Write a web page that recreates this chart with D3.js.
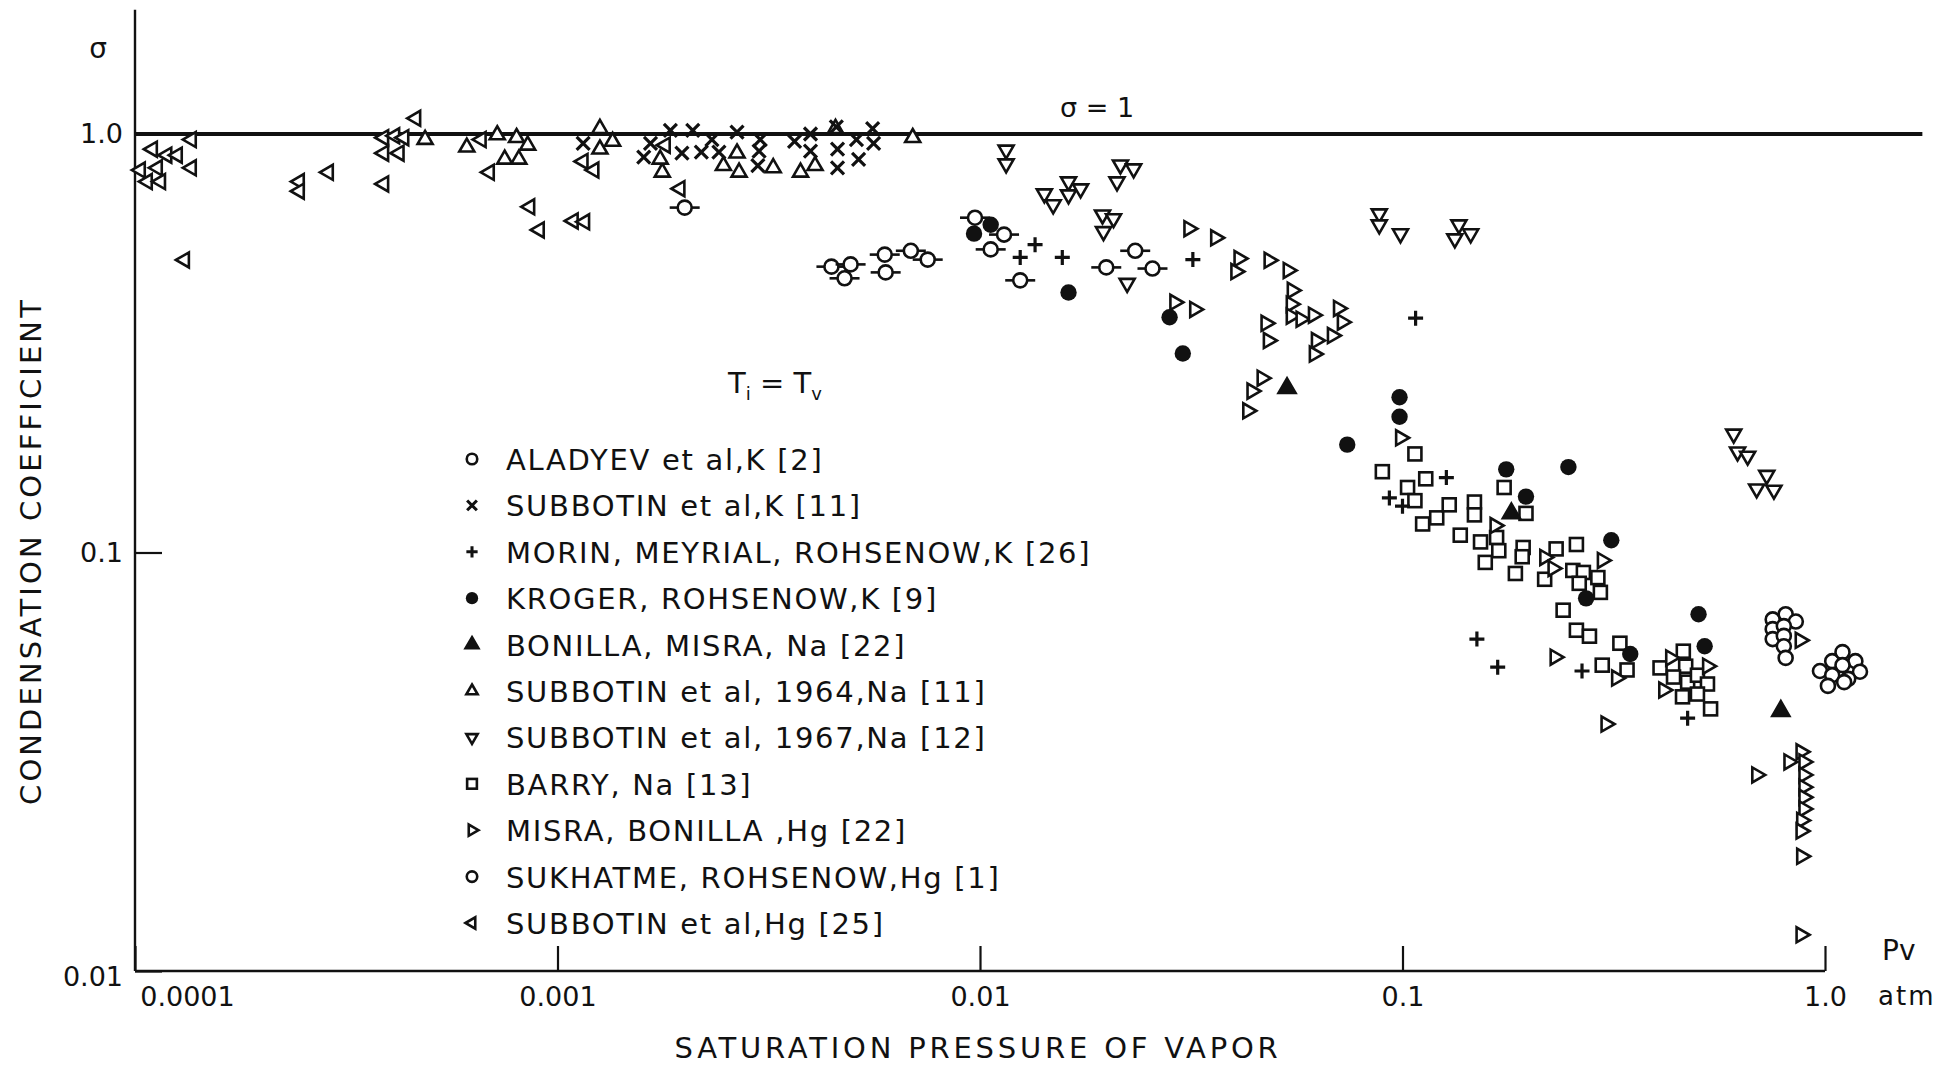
<!DOCTYPE html>
<html>
<head>
<meta charset="utf-8">
<script src="https://cdn.jsdelivr.net/npm/d3@7"></script>
<style>
  body { margin: 0; background: #fff; }
  text { font-family: "DejaVu Sans", sans-serif; fill: #111; }
</style>
</head>
<body>
<script>
// Données : [pression de vapeur (atm), coefficient de condensation]
const aladyevK = [[2.0e-3,0.667],[4.45e-3,0.482],[4.94e-3,0.488],[4.78e-3,0.452],[5.95e-3,0.515],[5.98e-3,0.467],[6.86e-3,0.526],[7.52e-3,0.501],[9.73e-3,0.631],[0.0114,0.575],[0.0106,0.53],[0.01245,0.447],[0.0199,0.48],[0.0233,0.526],[0.0256,0.477]]

const subbotinK = [[1.15e-3,0.95],[1.85e-3,1.02],[2.09e-3,1.02],[1.66e-3,0.95],[1.60e-3,0.88],[1.97e-3,0.90],[2.19e-3,0.905],[2.32e-3,0.97],[2.41e-3,0.905],[2.66e-3,1.01],[3.02e-3,0.97],[3.0e-3,0.91],[2.98e-3,0.84],[3.64e-3,0.96],[3.97e-3,1.0],[3.97e-3,0.91],[4.57e-3,1.04],[4.6e-3,0.92],[4.6e-3,0.83],[5.1e-3,0.97],[5.16e-3,0.87],[5.57e-3,1.03],[5.6e-3,0.95]]

const morinK = [[0.0135,0.544],[0.01245,0.507],[0.01566,0.507],[0.0319,0.501],[0.1074,0.363],[0.127,0.151],[0.0931,0.135],[0.1,0.129],[0.15,0.0621],[0.168,0.0532],[0.266,0.0521],[0.473,0.0402]]

const krogerK = [[9.68e-3,0.578],[0.0106,0.607],[0.0162,0.418],[0.0281,0.365],[0.0302,0.299],[0.0984,0.235],[0.0984,0.211],[0.074,0.181],[0.176,0.158],[0.247,0.160],[0.196,0.136],[0.312,0.107],[0.272,0.0777],[0.346,0.0572],[0.502,0.0712],[0.519,0.0597]]

const bonillaNa = [[0.0533,0.247],[0.181,0.124],[0.786,0.0418]]

const subbotin1964Na = [[4.86e-4,0.97],[6.1e-4,0.93],[7.2e-4,0.995],[8.0e-4,0.98],[8.5e-4,0.94],[7.5e-4,0.87],[8.1e-4,0.87],[1.26e-3,1.03],[1.35e-3,0.96],[1.26e-3,0.92],[1.77e-3,0.81],[1.75e-3,0.87],[2.66e-3,0.90],[2.47e-3,0.84],[2.69e-3,0.81],[3.24e-3,0.83],[3.76e-3,0.81],[4.07e-3,0.84],[4.55e-3,1.03],[6.93e-3,0.98]]

const subbotin1967Na = [[0.01153,0.916],[0.01153,0.849],[0.0142,0.72],[0.0149,0.678],[0.0162,0.769],[0.0162,0.716],[0.0173,0.74],[0.0215,0.844],[0.0231,0.826],[0.0211,0.769],[0.0195,0.641],[0.0207,0.628],[0.0196,0.585],[0.0223,0.44],[0.0881,0.645],[0.0881,0.607],[0.0989,0.578],[0.136,0.607],[0.145,0.578],[0.133,0.562],[0.608,0.192],[0.621,0.174],[0.656,0.170],[0.728,0.153],[0.689,0.142],[0.757,0.141]]

const barryNa = [[0.107,0.172],[0.0896,0.156],[0.1135,0.150],[0.1028,0.143],[0.107,0.133],[0.1116,0.117],[0.1205,0.121],[0.129,0.130],[0.148,0.132],[0.148,0.123],[0.137,0.110],[0.174,0.143],[0.196,0.124],[0.153,0.106],[0.167,0.1086],[0.169,0.101],[0.157,0.0947],[0.193,0.1028],[0.192,0.0977],[0.185,0.0891],[0.231,0.102],[0.258,0.1045],[0.217,0.0863],[0.253,0.0906],[0.268,0.0896],[0.262,0.0844],[0.29,0.0871],[0.294,0.0803],[0.24,0.0728],[0.258,0.0652],[0.277,0.0631],[0.327,0.0607],[0.297,0.0538],[0.34,0.0524],[0.462,0.0581],[0.407,0.053],[0.468,0.0535],[0.438,0.0504],[0.473,0.049],[0.499,0.0509],[0.527,0.0485],[0.499,0.0459],[0.46,0.0452],[0.536,0.0423]]

const misraHg = [[0.0312,0.594],[0.0361,0.565],[0.041,0.504],[0.0403,0.469],[0.0483,0.499],[0.0536,0.472],[0.0548,0.423],[0.0545,0.392],[0.0545,0.367],[0.0575,0.361],[0.0615,0.369],[0.0475,0.353],[0.0481,0.321],[0.0625,0.321],[0.0618,0.298],[0.0682,0.330],[0.072,0.355],[0.0705,0.383],[0.0289,0.396],[0.0322,0.381],[0.0465,0.261],[0.044,0.243],[0.043,0.218],[0.0989,0.188],[0.1655,0.116],[0.217,0.0973],[0.227,0.0916],[0.297,0.0957],[0.2296,0.0562],[0.321,0.0501],[0.303,0.0389],[0.431,0.056],[0.415,0.0469],[0.527,0.0535],[0.873,0.0617],[0.689,0.0294],[0.821,0.0316],[0.877,0.0334],[0.891,0.0316],[0.891,0.0294],[0.891,0.0275],[0.891,0.026],[0.891,0.0244],[0.88,0.0229],[0.877,0.0216],[0.88,0.0188],[0.877,0.0122]]

const sukhatmeHg = [[0.752,0.0692],[0.807,0.0712],[0.853,0.0684],[0.752,0.0656],[0.799,0.0667],[0.752,0.0621],[0.799,0.0632],[0.799,0.0597],[0.807,0.056],[0.973,0.0521],[1.04,0.055],[1.10,0.0578],[1.18,0.055],[1.21,0.0519],[1.10,0.0538],[1.135,0.0499],[1.04,0.0509],[1.016,0.048],[1.11,0.049]]

const subbotinHg = [[1.10e-4,0.92],[1.03e-4,0.82],[1.07e-4,0.77],[1.13e-4,0.83],[1.15e-4,0.77],[1.19e-4,0.89],[1.26e-4,0.89],[1.36e-4,0.97],[1.36e-4,0.83],[1.31e-4,0.50],[2.45e-4,0.77],[2.45e-4,0.73],[2.87e-4,0.81],[3.88e-4,0.98],[4.12e-4,0.99],[4.33e-4,0.98],[4.62e-4,1.09],[3.88e-4,0.90],[4.22e-4,0.90],[3.88e-4,0.76],[6.6e-4,0.97],[6.9e-4,0.81],[8.6e-4,0.67],[9.06e-4,0.59],[1.09e-3,0.62],[1.16e-3,0.617],[1.15e-3,0.86],[1.22e-3,0.82],[1.80e-3,0.94],[1.95e-3,0.74]]

// Axes
const xTicks = [1e-4, 1e-3, 1e-2, 1e-1, 1]
const xTickLabels = ['0.0001', '0.001', '0.01', '0.1', '1.0']
const yTicks = [0.01, 0.1, 1]
const yTickLabels = ['0.01', '0.1', '1.0']
const yAxisTop = 1.98
const sigmaLineEnd = 1.7

// Légende
const legendLabels = [
  'ALADYEV et al,K [2]',
  'SUBBOTIN et al,K [11]',
  'MORIN, MEYRIAL, ROHSENOW,K [26]',
  'KROGER, ROHSENOW,K [9]',
  'BONILLA, MISRA, Na [22]',
  'SUBBOTIN et al, 1964,Na [11]',
  'SUBBOTIN et al, 1967,Na [12]',
  'BARRY, Na [13]',
  'MISRA, BONILLA ,Hg [22]',
  'SUKHATME, ROHSENOW,Hg [1]',
  'SUBBOTIN et al,Hg [25]'
]
const legendKinds = ['circle', 'cross', 'plus', 'dot', 'triFill', 'triUp', 'triDown', 'square', 'triRight', 'circle', 'triLeft']

// Séries dans l'ordre de dessin
const series = [
  { data: subbotinHg, kind: 'triLeft' },
  { data: subbotin1964Na, kind: 'triUp' },
  { data: subbotinK, kind: 'cross' },
  { data: aladyevK, kind: 'circleBar' },
  { data: subbotin1967Na, kind: 'triDown' },
  { data: barryNa, kind: 'square' },
  { data: misraHg, kind: 'triRight' },
  { data: sukhatmeHg, kind: 'circle' },
  { data: morinK, kind: 'plus' },
  { data: krogerK, kind: 'dot' },
  { data: bonillaNa, kind: 'triFill' }
]

const ink = '#111'

const svg = d3.select('body')
  .append('svg')
  .attr('width', 1946)
  .attr('height', 1066)

const x = d3.scaleLog().domain([1e-4, 1]).range([135, 1825])
const y = d3.scaleLog().domain([0.01, 1]).range([971, 134])

// Dessine un marqueur dans le groupe g (k = facteur d'échelle)
function addMarker(g, kind, k) {
  const sw = 2.6
  const tri = (side, rot, fill) => {
    const a = side * side * Math.sqrt(3) / 4
    g.append('path')
      .attr('d', d3.symbol(d3.symbolTriangle, a)())
      .attr('transform', `rotate(${rot})`)
      .attr('fill', fill)
      .attr('stroke', ink)
      .attr('stroke-width', sw)
  }
  if (kind === 'circleBar') {
    g.append('line').attr('x1', -15 * k).attr('x2', 15 * k)
      .attr('stroke', ink).attr('stroke-width', sw)
    g.append('circle').attr('r', 7 * k).attr('fill', '#fff')
      .attr('stroke', ink).attr('stroke-width', sw)
  } else if (kind === 'circle') {
    g.append('circle').attr('r', 7 * k).attr('fill', '#fff')
      .attr('stroke', ink).attr('stroke-width', sw)
  } else if (kind === 'dot') {
    g.append('circle').attr('r', 8.2 * k).attr('fill', ink)
  } else if (kind === 'cross') {
    const s = 6.5 * k
    g.append('path').attr('d', `M${-s},${-s}L${s},${s}M${-s},${s}L${s},${-s}`)
      .attr('stroke', ink).attr('stroke-width', 3.2 * Math.min(1, k + 0.2))
  } else if (kind === 'plus') {
    const s = 7.5 * k
    g.append('path').attr('d', `M${-s},0L${s},0M0,${-s}L0,${s}`)
      .attr('stroke', ink).attr('stroke-width', 3.2 * Math.min(1, k + 0.2))
  } else if (kind === 'square') {
    const s = 6.5 * k
    g.append('rect').attr('x', -s).attr('y', -s).attr('width', 2 * s).attr('height', 2 * s)
      .attr('fill', '#fff').attr('stroke', ink).attr('stroke-width', sw)
  } else if (kind === 'triUp') tri(15 * k, 0, '#fff')
  else if (kind === 'triDown') tri(15 * k, 180, '#fff')
  else if (kind === 'triRight') tri(15 * k, 90, '#fff')
  else if (kind === 'triLeft') tri(15 * k, -90, '#fff')
  else if (kind === 'triFill') tri(17 * k, 0, ink)
}

// Axe des abscisses
svg.append('g')
  .attr('transform', `translate(0,${y(0.01)})`)
  .call(d3.axisBottom(x).tickValues(xTicks)
    .tickFormat((d, i) => xTickLabels[i])
    .tickSizeInner(-25).tickSizeOuter(0).tickPadding(16))
  .call(g => g.select('.domain').remove())
  .call(g => g.attr('font-size', 27).attr('font-family', null))
  .call(g => g.selectAll('.tick line').attr('stroke', ink).attr('stroke-width', 2.2))
  .call(g => g.selectAll('.tick text').filter((d, i) => i === 0).attr('dx', 52))

// Axe des ordonnées
svg.append('g')
  .attr('transform', `translate(${x(1e-4)},0)`)
  .call(d3.axisLeft(y).tickValues(yTicks)
    .tickFormat((d, i) => yTickLabels[i])
    .tickSizeInner(-27).tickSizeOuter(0).tickPadding(12))
  .call(g => g.select('.domain').remove())
  .call(g => g.attr('font-size', 27).attr('font-family', null))
  .call(g => g.selectAll('.tick line').attr('stroke', ink).attr('stroke-width', 2.2))
  .call(g => g.selectAll('.tick text').filter(d => d === 0.01).attr('dy', '0.55em'))

// Lignes des axes
svg.append('line')
  .attr('x1', x(1e-4)).attr('x2', x(1e-4))
  .attr('y1', y(yAxisTop)).attr('y2', y(0.01))
  .attr('stroke', ink).attr('stroke-width', 2.4)
svg.append('line')
  .attr('x1', x(1e-4)).attr('x2', x(1))
  .attr('y1', y(0.01)).attr('y2', y(0.01))
  .attr('stroke', ink).attr('stroke-width', 2.4)

// Ligne sigma = 1
svg.append('line')
  .attr('x1', x(1e-4)).attr('x2', x(sigmaLineEnd))
  .attr('y1', y(1)).attr('y2', y(1))
  .attr('stroke', ink).attr('stroke-width', 4)

// Points
series.forEach(s => {
  svg.append('g').selectAll('g')
    .data(s.data)
    .enter()
    .append('g')
    .attr('transform', d => `translate(${x(d[0])},${y(d[1])})`)
    .each(function () { addMarker(d3.select(this), s.kind, 1) })
})

// Textes
svg.append('text').text('σ')
  .attr('x', 98).attr('y', 58).attr('text-anchor', 'middle').attr('font-size', 28)

svg.append('text').text('σ = 1')
  .attr('x', 1060).attr('y', 117).attr('font-size', 27)

const tt = svg.append('text').attr('x', 728).attr('y', 393).attr('font-size', 29)
tt.append('tspan').text('T')
tt.append('tspan').text('i').attr('font-size', 18).attr('dy', 7)
tt.append('tspan').text(' = T').attr('dy', -7)
tt.append('tspan').text('v').attr('font-size', 18).attr('dy', 7)

svg.append('text').text('Pv')
  .attr('x', 1882).attr('y', 960).attr('font-size', 28)
svg.append('text').text('atm')
  .attr('x', 1878).attr('y', 1005).attr('font-size', 26).attr('letter-spacing', 2)

svg.append('text').text('SATURATION PRESSURE OF VAPOR')
  .attr('x', 978).attr('y', 1058).attr('text-anchor', 'middle')
  .attr('font-size', 29).attr('letter-spacing', 3.8)

svg.append('text').text('CONDENSATION COEFFICIENT')
  .attr('transform', 'translate(41,551) rotate(-90)')
  .attr('text-anchor', 'middle')
  .attr('font-size', 29).attr('letter-spacing', 3.1)

// Légende
const legend = svg.append('g')
legendLabels.forEach((label, i) => {
  const cy = 459 + i * 46.4
  const m = legend.append('g').attr('transform', `translate(472,${cy})`)
  addMarker(m, legendKinds[i], 0.75)
  legend.append('text').text(label)
    .attr('x', 506).attr('y', cy + 11)
    .attr('font-size', 29).attr('letter-spacing', 1.7)
})
</script>
</body>
</html>
